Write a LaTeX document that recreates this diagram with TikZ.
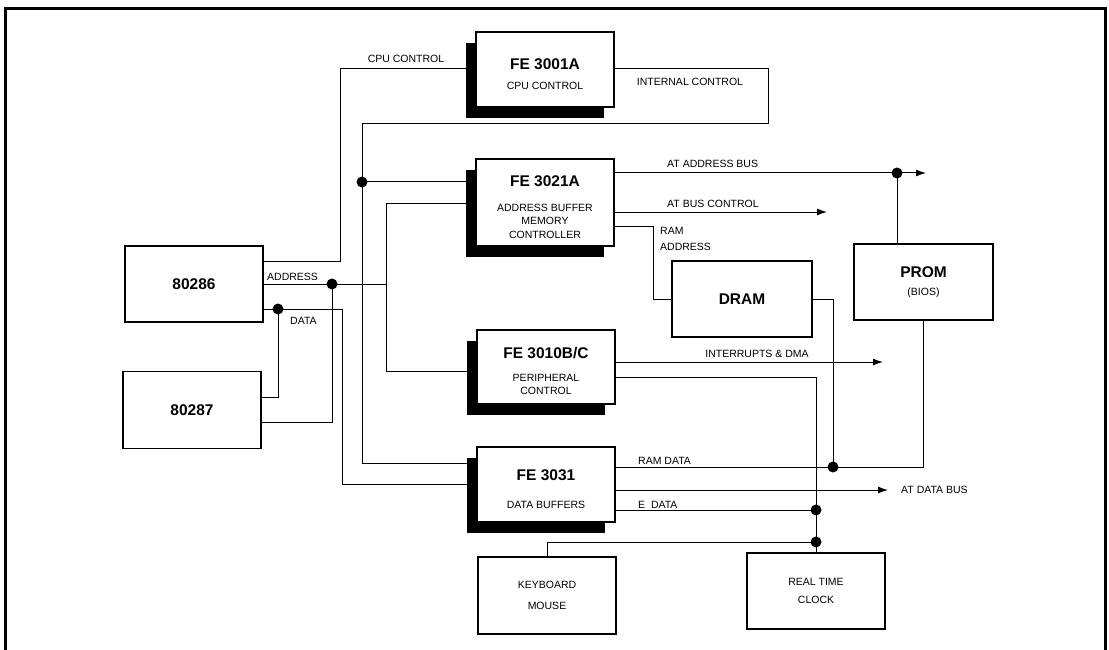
\documentclass[tikz,border=0pt]{standalone}
\usepackage{fontspec}
\setmainfont{Liberation Sans}
\usetikzlibrary{arrows.meta,shadows}

\newcommand{\chiptitle}[1]{{\fontsize{15.5}{18}\selectfont\bfseries #1}}
\newcommand{\fetitle}[1]{{\fontsize{15.5}{18}\selectfont\bfseries\rule{0pt}{20pt}#1}}

\begin{document}
\begin{tikzpicture}[x=1pt,y=-1pt,>={Latex[length=10pt,width=7pt]},
  every node/.style={font=\fontsize{10.5}{13.5}\selectfont},
  plainbox/.style={draw,line width=1.1pt,minimum width=138pt,align=center},
  chipbox/.style={plainbox,line width=2pt,fill=white,
    drop shadow={shadow xshift=-10pt,shadow yshift=-11pt,fill=black,opacity=1}},
  jdot/.style={circle,fill,inner sep=0pt,minimum size=11pt},
  bus/.style={line width=1pt},
  lbl/.style={inner sep=0pt}]

\useasboundingbox (0,0) rectangle (1109,650);

% frame
\draw[line width=3pt] (5,660) -- (5,9) -- (1105,9) -- (1105,660);

% blocks
\node[plainbox,minimum height=76pt] (cpu) at (194,284) {\chiptitle{80286}};
\node[plainbox,minimum height=77pt] (npx) at (192,410) {\chiptitle{80287}};
\node[chipbox,minimum height=75pt] (fe01) at (545,69.5) {\fetitle{FE 3001A}\\[7pt] CPU CONTROL};
\node[chipbox,minimum height=87pt] (fe21) at (545,202.5) {\fetitle{FE 3021A}\\[11pt] ADDRESS BUFFER\\MEMORY\\CONTROLLER};
\node[chipbox,minimum height=74pt] (fe10) at (546,367) {\fetitle{FE 3010B/C}\\[9pt] PERIPHERAL\\CONTROL};
\node[chipbox,minimum height=75pt] (fe31) at (546,484.5) {\fetitle{FE 3031}\\[14pt] DATA BUFFERS};
\node[plainbox,minimum height=76pt,minimum width=140pt] (dram) at (742,299) {\chiptitle{DRAM}};
\node[plainbox,minimum height=76pt,minimum width=139pt] (prom) at (923.5,282) {\chiptitle{PROM}\\[4pt] (BIOS)};
\node[plainbox,minimum height=77pt] (kbd) at (547,595.5) {KEYBOARD\\[7pt] MOUSE};
\node[plainbox,minimum height=76pt] (rtc) at (816,591) {REAL TIME\\[5pt] CLOCK};

% junctions
\node[jdot] (dAdr) at (332,284) {};
\node[jdot] (dDat) at (278,309) {};
\node[jdot] (dInt) at (362,182) {};
\node[jdot] (dPa) at (897,173) {};
\node[jdot] (dRd) at (833,467) {};
\node[jdot] (dEd) at (816,510) {};
\node[jdot] (dKb) at (816,542) {};

% control lines
\draw[bus] (cpu.east |- 0,261) -| (340,69) -- (fe01.west |- 0,69);
\draw[bus] (fe01.east |- 0,69) -| (768,124) -| (362,463) -- (fe31.west |- 0,463);
\draw[bus] (dInt.center) -- (fe21.west |- dInt);

% address
\draw[bus] (cpu.east) -- (386,284);
\draw[bus] (fe21.west |- 0,203) -| (386,371) -- (fe10.west |- 0,371);
\draw[bus] (dAdr.center) |- (npx.east |- 0,422);

% data
\draw[bus] (cpu.east |- dDat) -| (342,484) -- (fe31.west |- 0,484);
\draw[bus] (dDat.center) |- (npx.east |- 0,397);

% AT side
\draw[bus,->] (fe21.east |- dPa) -- (926,173);
\draw[bus] (dPa.center) -- (dPa |- prom.north);
\draw[bus,->] (fe21.east |- 0,212) -- (827,212);
\draw[bus] (fe21.east |- 0,226) -| (653,299) -- (dram.west);
\draw[bus] (dram.east) -| (dRd.center);
\draw[bus] (fe31.east |- dRd) -| (prom.south);
\draw[bus,->] (fe10.east |- 0,362) -- (883,362);
\draw[bus] (fe10.east |- 0,377) -| (rtc.north);
\draw[bus,->] (fe31.east |- 0,490) -- (888,490);
\draw[bus] (fe31.east |- dEd) -- (dEd.center);
\draw[bus] (kbd.north) |- (dKb.center);

% labels
\node[lbl] (lCpu) at (406,59) {CPU CONTROL};
\node[lbl] (lInt) at (690,82) {INTERNAL CONTROL};
\node[lbl,anchor=west] (lAdr) at (267,277) {ADDRESS};
\node[lbl,anchor=west] (lDat) at (290,321) {DATA};
\node[lbl,anchor=west] (lAab) at (667,164) {AT ADDRESS BUS};
\node[lbl,anchor=west] (lAbc) at (667,204) {AT BUS CONTROL};
\node[lbl,anchor=west,align=left] (lRa) at (660,239) {RAM\\[2pt]ADDRESS};
\node[lbl] (lIrq) at (757,354) {INTERRUPTS \& DMA};
\node[lbl,anchor=west] (lRd) at (638,461) {RAM DATA};
\node[lbl,anchor=west] (lEd) at (638,505) {E\ \ DATA};
\node[lbl,anchor=west] (lAdb) at (901,490) {AT DATA BUS};

\end{tikzpicture}
\end{document}
